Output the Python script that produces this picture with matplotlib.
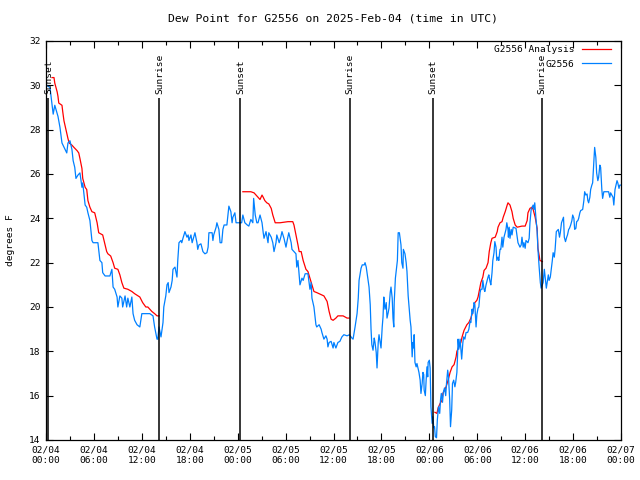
import datetime as dt

import matplotlib
import matplotlib.pyplot as plt
import numpy as np
from matplotlib.ticker import FuncFormatter, MultipleLocator

matplotlib.use("Agg")

START = dt.datetime(2025, 2, 4, 0, 0)

# observed dew point (hours since 02/04 00:00 UTC, deg F)
obs_hours = [
    0.1, 0.5, 0.9, 1.1, 1.5, 1.75, 2.0, 2.4, 2.6, 2.75, 3.0, 3.25, 3.4, 3.6, 3.75,
    4.0, 4.25, 4.5, 4.6, 4.9, 5.1, 5.25, 5.5, 5.75, 5.9, 6.5, 6.75, 7.0, 7.1, 7.4,
    8.0, 8.25, 8.4, 8.6, 8.9, 9.0, 9.25, 9.5, 9.6, 9.9, 10.1, 10.25, 10.5, 10.75,
    10.9, 11.1, 11.4, 11.75, 12.0, 12.4, 13.0, 13.4, 13.6, 13.9, 14.0, 14.15, 14.4,
    14.65, 14.75, 15.0, 15.15, 15.3, 15.4, 15.65, 15.8, 15.9, 16.15, 16.4, 16.5,
    16.65, 16.9, 17.0, 17.15, 17.4, 17.65, 17.8, 17.9, 18.15, 18.3, 18.5, 18.65,
    18.9, 19.0, 19.15, 19.4, 19.65, 19.9, 20.15, 20.3, 20.4, 20.8, 20.9, 21.0, 21.3,
    21.4, 21.65, 21.8, 22.0, 22.15, 22.3, 22.65, 22.9, 23.15, 23.3, 23.4, 23.65,
    23.8, 24.0, 24.3, 24.5, 24.65, 24.9, 25.2, 25.4, 25.65, 25.9, 26.0, 26.2, 26.4,
    26.55, 26.8, 27.05, 27.2, 27.3, 27.55, 27.8, 27.9, 28.2, 28.4, 28.55, 28.8,
    28.9, 29.2, 29.4, 29.55, 29.8, 30.05, 30.2, 30.4, 30.7, 30.8, 31.05, 31.3, 31.4,
    31.55, 31.8, 32.05, 32.2, 32.45, 32.8, 33.05, 33.2, 33.3, 33.55, 33.8, 33.9,
    34.2, 34.45, 34.55, 34.8, 35.05, 35.2, 35.3, 35.45, 35.7, 35.95, 36.05, 36.3,
    36.55, 36.8, 37.05, 37.3, 37.7, 38.0, 38.3, 38.45, 38.7, 38.95, 39.1, 39.2,
    39.45, 39.6, 39.85, 39.95, 40.1, 40.2, 40.45, 40.6, 40.7, 40.8, 40.95, 41.1,
    41.2, 41.35, 41.45, 41.6, 41.7, 41.85, 41.95, 42.1, 42.2, 42.3, 42.35, 42.45,
    42.6, 42.7, 42.85, 42.95, 43.1, 43.2, 43.35, 43.45, 43.55, 43.6, 43.75, 44.0,
    44.1, 44.25, 44.45, 44.55, 44.7, 44.75, 44.85, 44.95, 45.1, 45.2, 45.35, 45.6,
    45.7, 45.85, 45.95, 46.05, 46.1, 46.2, 46.35, 46.45, 46.7, 46.85, 46.95, 47.1,
    47.2, 47.3, 47.35, 47.5, 47.6, 47.7, 47.8, 47.85, 48.0, 48.1, 48.2, 48.35,
    48.45, 48.55, 48.65, 48.75, 48.9, 49.0, 49.15, 49.3, 49.4, 49.5, 49.65, 49.75,
    49.9, 50.05, 50.15, 50.3, 50.4, 50.55, 50.65, 50.8, 50.9, 51.05, 51.2, 51.3,
    51.45, 51.55, 51.6, 51.7, 51.85, 52.05, 52.2, 52.3, 52.45, 52.6, 52.8, 52.95,
    53.1, 53.2, 53.35, 53.45, 53.6, 53.7, 53.85, 53.95, 54.1, 54.2, 54.35, 54.45,
    54.6, 54.7, 54.85, 54.95, 55.1, 55.35, 55.45, 55.6, 55.7, 55.85, 55.95, 56.1,
    56.2, 56.35, 56.45, 56.6, 56.7, 56.85, 56.95, 57.1, 57.2, 57.35, 57.6, 57.7,
    57.85, 57.9, 58.0, 58.1, 58.25, 58.35, 58.5, 58.85, 59.0, 59.1, 59.35, 59.5,
    59.6, 59.75, 59.85, 60.0, 60.1, 60.35, 60.5, 60.6, 60.75, 61.0, 61.1, 61.2,
    61.35, 61.5, 61.6, 61.75, 61.9, 62.0, 62.25, 62.4, 62.5, 62.65, 62.9, 63.0,
    63.15, 63.4, 63.5, 63.65, 63.75, 63.9, 64.15, 64.3, 64.4, 64.55, 64.8, 64.9,
    65.05, 65.2, 65.3, 65.45, 65.55, 65.7, 65.85, 65.95, 66.1, 66.2, 66.35, 66.45,
    66.6, 66.7, 66.85, 66.95, 67.2, 67.35, 67.45, 67.6, 67.75, 67.85, 67.95, 68.1,
    68.2, 68.35, 68.45, 68.6, 68.7, 68.85, 68.95, 69.1, 69.2, 69.35, 69.45, 69.6,
    69.7, 69.85, 69.95, 70.45, 70.6, 70.7, 70.85, 71.0, 71.1, 71.25, 71.5, 71.6,
    71.75, 71.85, 72.0,
]
obs_dewpt = [
    30.0, 29.9, 28.7, 29.1, 28.6, 28.1, 27.4, 27.1, 26.95, 27.4, 27.5, 27.1, 26.6,
    26.3, 25.8, 25.95, 26.05, 25.4, 25.6, 24.6, 24.5, 24.25, 23.9, 23.0, 22.9, 22.9,
    22.1, 22.0, 21.55, 21.4, 21.4, 21.7, 20.9, 20.8, 20.45, 20.0, 20.5, 20.4, 20.0,
    20.5, 20.0, 20.4, 20.0, 20.45, 19.7, 19.4, 19.2, 19.1, 19.7, 19.7, 19.7, 19.6,
    19.1, 18.55, 18.55, 19.1, 18.65, 19.3, 20.0, 20.5, 21.0, 21.1, 20.65, 20.9,
    21.2, 21.7, 21.8, 21.35, 22.1, 22.9, 23.0, 22.9, 23.1, 23.4, 23.15, 23.25, 23.0,
    23.25, 22.9, 23.15, 23.35, 22.9, 22.6, 22.8, 22.85, 22.5, 22.4, 22.45, 22.7,
    23.35, 23.35, 23.0, 23.25, 23.6, 23.8, 23.5, 22.9, 22.9, 23.5, 23.7, 23.7,
    24.55, 24.3, 23.8, 24.05, 24.25, 23.8, 23.8, 23.8, 23.8, 24.15, 23.8, 23.7,
    23.65, 23.95, 23.8, 24.9, 24.15, 23.8, 23.8, 24.15, 23.8, 23.35, 23.1, 23.4,
    22.9, 23.35, 23.15, 22.9, 22.5, 22.9, 23.25, 22.9, 23.15, 23.4, 23.1, 22.7,
    23.0, 23.35, 22.9, 22.6, 22.5, 22.4, 21.8, 22.1, 21.0, 21.3, 21.2, 21.5, 21.5,
    20.8, 21.1, 20.4, 20.0, 19.2, 19.1, 19.2, 19.0, 18.85, 18.55, 18.7, 18.55, 18.2,
    18.4, 18.45, 18.15, 18.4, 18.15, 18.4, 18.45, 18.65, 18.75, 18.7, 18.75, 18.6,
    18.55, 19.1, 19.7, 20.4, 21.2, 21.75, 21.9, 21.9, 22.0, 21.8, 21.55, 20.9, 20.1,
    19.0, 18.3, 18.05, 18.6, 18.4, 17.95, 17.25, 18.4, 18.75, 18.4, 18.15, 19.1,
    19.55, 20.45, 20.2, 19.9, 20.2, 19.5, 19.75, 19.95, 20.65, 20.9, 20.4, 19.5,
    19.1, 20.2, 21.3, 22.1, 23.35, 23.35, 22.8, 22.0, 21.75, 22.6, 22.5, 22.4, 22.0,
    21.6, 20.5, 19.4, 19.1, 17.75, 18.4, 18.15, 18.75, 17.5, 17.3, 17.45, 17.05,
    16.7, 16.1, 16.55, 17.05, 16.95, 16.25, 16.0, 16.7, 17.3, 16.85, 17.5, 17.6,
    17.25, 15.5, 14.75, 15.05, 14.55, 14.6, 14.15, 14.1, 14.9, 15.5, 15.2, 15.8,
    16.1, 15.7, 16.15, 16.35, 16.0, 16.55, 17.15, 16.85, 15.8, 14.6, 15.35, 16.55,
    16.7, 16.4, 16.6, 17.05, 17.95, 18.55, 18.1, 18.55, 17.65, 18.4, 18.65, 18.55,
    18.85, 18.85, 19.0, 19.35, 19.3, 19.9, 19.7, 20.2, 20.1, 19.1, 19.65, 19.95,
    20.0, 20.65, 20.8, 20.8, 21.2, 20.8, 20.7, 21.0, 21.35, 21.45, 21.15, 21.0,
    21.55, 22.1, 22.45, 22.95, 22.7, 22.1, 22.25, 22.1, 22.6, 22.6, 23.15, 22.7,
    23.15, 23.5, 23.8, 23.5, 23.15, 23.6, 23.1, 23.5, 23.25, 23.6, 23.55, 23.15,
    22.9, 22.7, 22.8, 23.15, 22.7, 22.9, 22.65, 23.0, 22.9, 23.1, 23.8, 24.4, 24.6,
    24.4, 24.7, 24.0, 23.4, 22.6, 21.8, 21.1, 20.85, 21.1, 21.7, 21.35, 20.85,
    21.45, 21.2, 21.35, 22.1, 22.45, 22.25, 22.6, 23.4, 23.5, 23.15, 23.35, 23.8,
    24.05, 23.15, 22.95, 23.15, 23.25, 23.5, 23.55, 23.7, 23.9, 24.15, 24.0, 23.5,
    23.55, 23.85, 23.9, 24.0, 24.25, 24.35, 24.4, 24.8, 25.2, 25.05, 25.1, 24.8,
    24.7, 24.95, 25.3, 25.5, 25.6, 26.6, 27.2, 26.75, 26.05, 25.7, 25.85, 26.4,
    26.3, 25.3, 24.9, 25.2, 25.2, 25.2, 24.95, 25.15, 25.05, 24.95, 24.6, 25.3,
    25.7, 25.6, 25.35, 25.5, 25.5,
]

# analysis (night-time only, NaN = no analysis)
ana_hours = [
    0.75, 1.0, 1.1, 1.4, 1.5, 1.6, 2.0, 2.1, 2.25, 2.5, 2.75, 2.9, 3.25, 3.5, 3.9,
    4.1, 4.25, 4.5, 4.6, 4.9, 5.1, 5.25, 5.5, 5.75, 6.1, 6.4, 6.6, 7.1, 7.4, 7.6,
    7.75, 8.1, 8.4, 8.6, 9.0, 9.25, 9.5, 9.75, 10.25, 10.75, 11.1, 11.75, 12.1, 12.5,
    12.75, 13.25, 13.6, 13.9, 14.15,
    14.2,
    24.65, 25.65, 26.05, 26.3, 26.55, 26.8, 27.05, 27.2, 27.4, 27.65, 27.9, 28.2,
    28.4, 28.7, 29.3, 30.3, 30.9, 31.05, 31.3, 31.55, 31.7, 31.95, 32.2, 32.55,
    32.8, 33.05, 33.3, 33.55, 33.9, 34.2, 34.8, 35.2, 35.45, 35.7, 35.95, 36.3,
    36.55, 36.8, 37.2, 37.45, 37.7, 37.95,
    38.0,
    48.7, 48.95, 49.1, 49.35, 49.6, 49.7, 50.1, 50.35, 50.6, 50.85, 51.1, 51.35,
    51.45, 51.7, 51.95, 52.1, 52.35, 52.7, 52.95, 53.2, 53.45, 53.7, 53.95, 54.1,
    54.45, 54.7, 54.85, 55.1, 55.35, 55.5, 55.7, 55.85, 56.25, 56.5, 56.6, 56.85,
    57.1, 57.25, 57.5, 57.75, 57.85, 58.1, 58.35, 58.5, 58.75, 59.0, 59.6, 60.0,
    60.25, 60.35, 60.6, 60.85, 61.0, 61.25, 61.5, 61.55, 61.6, 61.85, 62.15,
]
ana_dewpt = [
    30.35, 30.35, 30.1, 29.7, 29.5, 29.2, 29.1, 28.8, 28.4, 28.0, 27.6, 27.4, 27.3,
    27.2, 27.05, 26.95, 26.7, 26.25, 25.8, 25.4, 25.3, 24.8, 24.5, 24.3, 24.25,
    23.8, 23.35, 23.25, 22.8, 22.5, 22.4, 22.3, 22.0, 21.75, 21.7, 21.45, 21.1,
    20.85, 20.8, 20.7, 20.6, 20.45, 20.2, 20.0, 20.0, 19.8, 19.7, 19.6, 19.6,
    np.nan,
    25.2, 25.2, 25.15, 25.05, 24.95, 24.85, 25.05, 24.95, 24.8, 24.7, 24.65, 24.45,
    24.15, 23.8, 23.8, 23.85, 23.85, 23.7, 23.25, 22.8, 22.5, 22.5, 22.1, 21.7,
    21.6, 21.3, 21.0, 20.7, 20.65, 20.6, 20.5, 20.25, 19.8, 19.45, 19.4, 19.5,
    19.6, 19.6, 19.6, 19.55, 19.5, 19.5,
    np.nan,
    15.25, 15.2, 15.45, 15.65, 15.8, 16.1, 16.4, 16.7, 17.05, 17.3, 17.4, 17.75,
    18.0, 18.2, 18.4, 18.65, 18.95, 19.2, 19.3, 19.5, 19.8, 20.2, 20.3, 20.45,
    21.1, 21.35, 21.65, 21.75, 22.0, 22.5, 22.9, 23.1, 23.15, 23.4, 23.6, 23.8,
    23.85, 24.05, 24.3, 24.6, 24.7, 24.6, 24.3, 24.0, 23.7, 23.6, 23.65, 23.65,
    23.9, 24.25, 24.45, 24.5, 24.4, 24.05, 23.55, 23.1, 22.65, 22.1, 22.05,
]

sun_labels = ["Sunset", "Sunrise", "Sunset", "Sunrise", "Sunset", "Sunrise"]
sun_hours = [0.3, 14.2, 24.35, 38.1, 48.4, 62.15]

FONT = "DejaVu Sans Mono"
plt.rcParams["font.family"] = FONT
plt.rcParams["font.size"] = 6.8


def hour_label(x, pos):
    t = START + dt.timedelta(hours=x)
    return t.strftime("%m/%d\n%H:%M")


fig = plt.figure(figsize=(6.4, 4.8), dpi=100)
ax = fig.add_axes([46 / 640, 1 - 440 / 480, 575 / 640, 399 / 480])

ax.plot(ana_hours, ana_dewpt, color="#ff0000", lw=0.9, label="G2556 Analysis")
ax.plot(obs_hours, obs_dewpt, color="#0080ff", lw=0.9, label="G2556")

for name, h in zip(sun_labels, sun_hours):
    ax.vlines(h, 14, 29.45, color="black", lw=1.1)
    ax.text(h, 29.6, name, rotation=90, ha="center", va="bottom", fontsize=6.8)

ax.set_xlim(0, 72)
ax.set_ylim(14, 32)
ax.xaxis.set_major_locator(MultipleLocator(6))
ax.xaxis.set_minor_locator(MultipleLocator(3))
ax.xaxis.set_major_formatter(FuncFormatter(hour_label))
ax.yaxis.set_major_locator(MultipleLocator(2))
ax.tick_params(which="both", direction="in", top=True, right=True, width=0.8)
ax.tick_params(which="major", length=5, pad=4)
ax.tick_params(which="minor", length=3)
for s in ax.spines.values():
    s.set_linewidth(0.9)

ax.set_ylabel("degrees F", labelpad=10)
ax.set_title("Dew Point for G2556 on 2025-Feb-04 (time in UTC)", pad=14)

# legend sits over the last sunrise label, as in the original
leg = ax.legend(loc="upper right", bbox_to_anchor=(1.0, 1.016), frameon=False,
                handlelength=3.0, handletextpad=0.8, borderaxespad=0.7,
                labelspacing=0.6, markerfirst=False)

fig.savefig("out.png", dpi=100)
